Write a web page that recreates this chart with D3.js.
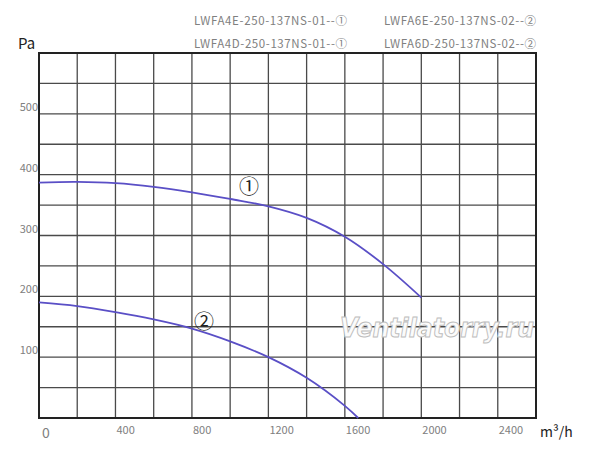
<!DOCTYPE html>
<html>
<head>
<meta charset="utf-8">
<script src="https://cdn.jsdelivr.net/npm/d3@7"></script>
<style>
  body { margin: 0; background: #fff; }
  svg { display: block; font-family: "Noto Sans CJK SC", "Noto Sans", sans-serif; }
</style>
</head>
<body>
<script>
// flow (m3/h) and pressure (Pa)
var flow1 = [0, 200, 400, 600, 800, 1000, 1200, 1400, 1600, 1800, 2000];
var pres1 = [387, 388, 386, 380, 371, 360, 348, 329, 298, 253, 198];
var flow2 = [0, 200, 400, 600, 800, 1000, 1200, 1400, 1600, 1670];
var pres2 = [190, 184, 174, 162, 147, 126, 100, 66, 20, 0];

var xTicks = [0, 400, 800, 1200, 1600, 2000, 2400];
var yTicks = [100, 200, 300, 400, 500];
var legendLeft = ["LWFA4E-250-137NS-01--\u2460", "LWFA4D-250-137NS-01--\u2460"];
var legendRight = ["LWFA6E-250-137NS-02--\u2461", "LWFA6D-250-137NS-02--\u2461"];

function init(){
    var W = 600, H = 461;
    var left = 39, right = 536, top = 53, bottom = 418;

    var x = d3.scaleLinear().domain([0, 2600]).range([left, right]);
    var y = d3.scaleLinear().domain([0, 600]).range([bottom, top]);

    var svg = d3.select("body").append("svg")
        .attr("width", W)
        .attr("height", H);

    // grid
    svg.append("g").selectAll("line")
        .data(d3.range(200, 2600, 200))
        .enter().append("line")
        .attr("x1", function(d){ return x(d); })
        .attr("x2", function(d){ return x(d); })
        .attr("y1", top).attr("y2", bottom)
        .attr("stroke", "#4a4a4a").attr("stroke-width", 1.3);

    svg.append("g").selectAll("line")
        .data(d3.range(50, 600, 50))
        .enter().append("line")
        .attr("y1", function(d){ return y(d); })
        .attr("y2", function(d){ return y(d); })
        .attr("x1", left).attr("x2", right)
        .attr("stroke", "#4a4a4a").attr("stroke-width", 1.3);

    svg.append("rect")
        .attr("x", left).attr("y", top)
        .attr("width", right - left).attr("height", bottom - top)
        .attr("fill", "none").attr("stroke", "#222").attr("stroke-width", 2);

    // tick labels
    svg.append("g").selectAll("text")
        .data(xTicks)
        .enter().append("text")
        .attr("x", function(d){ return x(d) + (d === 0 ? 3 : 1); })
        .attr("y", function(d){ return d === 0 ? 438 : 434; })
        .attr("font-size", function(d){ return d === 0 ? 14 : 11; })
        .attr("fill", "#808080")
        .text(function(d){ return d; });

    svg.append("g").selectAll("text")
        .data(yTicks)
        .enter().append("text")
        .attr("x", left - 1)
        .attr("y", function(d){ return y(d) - 3; })
        .attr("text-anchor", "end")
        .attr("font-size", 11)
        .attr("fill", "#808080")
        .text(function(d){ return d; });

    svg.append("text").attr("x", 18).attr("y", 49)
        .attr("font-size", 15).attr("fill", "#222").text("Pa");
    svg.append("text").attr("x", 540).attr("y", 437)
        .attr("font-size", 14).attr("fill", "#222").text("m\u00b3/h");

    // legend text
    svg.append("g").selectAll("text")
        .data(legendLeft)
        .enter().append("text")
        .attr("x", 194)
        .attr("y", function(d, i){ return 25 + i * 23; })
        .attr("font-size", 11.5).attr("fill", "#808080")
        .attr("textLength", 153).attr("lengthAdjust", "spacing")
        .text(function(d){ return d; });

    svg.append("g").selectAll("text")
        .data(legendRight)
        .enter().append("text")
        .attr("x", 384)
        .attr("y", function(d, i){ return 25 + i * 23; })
        .attr("font-size", 11.5).attr("fill", "#808080")
        .attr("textLength", 152).attr("lengthAdjust", "spacing")
        .text(function(d){ return d; });

    // watermark
    svg.append("text")
        .attr("x", 340).attr("y", 337)
        .attr("font-family", "DejaVu Sans, sans-serif")
        .attr("font-size", 26).attr("font-style", "italic").attr("font-weight", "bold")
        .attr("fill", "#fbfbfb").attr("stroke", "#bdbdbd").attr("stroke-width", 1)
        .attr("textLength", 194).attr("lengthAdjust", "spacingAndGlyphs")
        .text("Ventilatorry.ru");

    // curves
    var line = d3.line()
        .x(function(d){ return x(d[0]); })
        .y(function(d){ return y(d[1]); })
        .curve(d3.curveCatmullRom.alpha(0.5));

    var curves = [d3.zip(flow1, pres1), d3.zip(flow2, pres2)];
    svg.append("g").selectAll("path")
        .data(curves)
        .enter().append("path")
        .attr("d", line)
        .attr("fill", "none")
        .attr("stroke", "#5a4fc6")
        .attr("stroke-width", 1.8);

    // curve markers
    svg.append("text").attr("x", 249).attr("y", 194)
        .attr("text-anchor", "middle").attr("font-size", 20).attr("fill", "#222")
        .text("\u2460");
    svg.append("text").attr("x", 204).attr("y", 329)
        .attr("text-anchor", "middle").attr("font-size", 20).attr("fill", "#222")
        .text("\u2461");
}

window.onload = init;
</script>
</body>
</html>
